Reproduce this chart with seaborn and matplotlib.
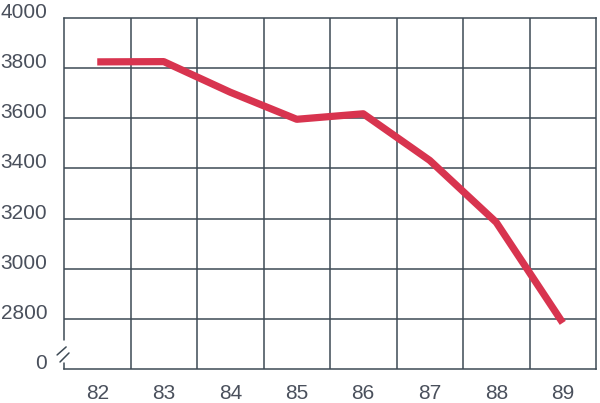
import seaborn as sns
import matplotlib.pyplot as plt
import pandas as pd

# values
years = [82, 83, 84, 85, 86, 87, 88, 89]
values = [3825, 3826, 3704, 3596, 3618, 3432, 3185, 2784]
ytick_vals = [2600, 2800, 3000, 3200, 3400, 3600, 3800, 4000]
ytick_labels = ["0", "2800", "3000", "3200", "3400", "3600", "3800", "4000"]

df = pd.DataFrame({"year": years, "value": values})

sns.set_style("white")
plt.rcParams["font.family"] = ["Liberation Sans", "DejaVu Sans"]

grid_col = "#3d4a55"
text_col = "#4a505c"

fig = plt.figure(figsize=(6, 4.03), dpi=100)
ax = fig.add_axes([64 / 600, 34 / 403, 532 / 600, 351 / 403])

sns.lineplot(data=df, x="year", y="value", ax=ax, color="#d8344f",
             linewidth=5.2, solid_capstyle="butt", zorder=5)

ax.set_xlim(81.5, 89.5)
ax.set_ylim(2600, 4000)

ax.set_xticks(years)
ax.set_xticklabels([str(y) for y in years])
ax.set_yticks(ytick_vals)
ax.set_yticklabels(ytick_labels)
for lbl in ax.get_yticklabels():
    lbl.set_va("baseline")

ax.tick_params(axis="both", which="both", length=0, labelsize=15, colors=text_col)
ax.tick_params(axis="y", pad=12)
ax.tick_params(axis="x", pad=11)

# grid: vertical lines between years, horizontal at values
ax.grid(False)
for x in [y + 0.5 for y in years[:-1]]:
    ax.axvline(x, color=grid_col, linewidth=1.1, zorder=1)
for v in ytick_vals[1:-1]:
    ax.axhline(v, color=grid_col, linewidth=1.1, zorder=1)

for side in ["top", "right", "bottom"]:
    ax.spines[side].set_color(grid_col)
    ax.spines[side].set_linewidth(1.1)
ax.spines["left"].set_visible(False)

# left axis with break marks
tr = ax.get_yaxis_transform()
ax.plot([0, 0], [2716, 4000], transform=tr, color=grid_col, lw=1.1, clip_on=False)
ax.plot([0, 0], [2600, 2624], transform=tr, color=grid_col, lw=1.1, clip_on=False)
ax.plot([-0.013, 0.004], [2656, 2688], transform=tr, color=grid_col, lw=1.1, clip_on=False)
ax.plot([-0.0075, 0.0094], [2628, 2664], transform=tr, color=grid_col, lw=1.1, clip_on=False)

ax.set_xlabel("")
ax.set_ylabel("")

fig.savefig("out.png", dpi=100)
